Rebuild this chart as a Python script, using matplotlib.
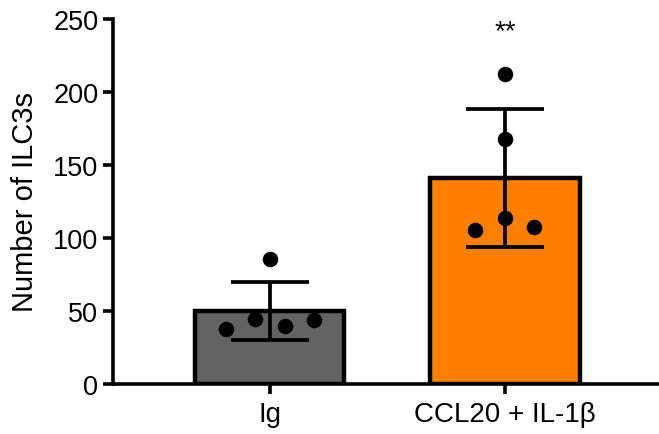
import matplotlib
matplotlib.use("Agg")
import matplotlib.pyplot as plt

plt.rcParams['font.family'] = ['Liberation Sans', 'DejaVu Sans']

categories = ["Ig", "CCL20 + IL-1β"]
means = [50.2, 141.2]
sds = [20.0, 47.3]
ig_points = [37.7, 44.5, 85.6, 39.5, 43.8]
ccl_points = [105.5, 212.3, 167.6, 113.5, 107.3]
ig_jitter = [-0.186, -0.06, 0.0, 0.064, 0.187]
ccl_jitter = [-0.126, 0.0, 0.0, 0.0, 0.124]
colors = ["#636363", "#FF8000"]
yticks = [0, 50, 100, 150, 200, 250]

fig = plt.figure(figsize=(6.59, 4.35), dpi=100)
ax = fig.add_axes([113/659, 50/435, 546/659, 365/435])

x = [0, 1]
ax.bar(x, means, width=0.635, color=colors, edgecolor="black", linewidth=3.2, zorder=2)
ax.errorbar(x, means, yerr=sds, fmt='none', ecolor='black', elinewidth=2.7,
            capsize=28, capthick=2.7, zorder=3)
ax.scatter([x[0] + j for j in ig_jitter], ig_points, s=125, color='black', zorder=4, linewidths=0)
ax.scatter([x[1] + j for j in ccl_jitter], ccl_points, s=125, color='black', zorder=4, linewidths=0)

ax.text(1, 237, "**", ha='center', va='baseline', fontsize=20)

ax.set_xlim(-0.665, 1.654)
ax.set_ylim(0, 250)
ax.set_yticks(yticks)
ax.set_xticks(x)
ax.set_xticklabels(categories, fontsize=20)
ax.set_ylabel("Number of ILC3s", fontsize=21, labelpad=10)
ax.tick_params(axis='y', labelsize=19.5)
ax.tick_params(axis='both', width=2.6, length=7.5, direction='out')
ax.tick_params(axis='x', pad=5)
ax.tick_params(axis='y', pad=3)
for s in ['top', 'right']:
    ax.spines[s].set_visible(False)
for s in ['left', 'bottom']:
    ax.spines[s].set_linewidth(2.6)

fig.savefig("out.png", dpi=100)
